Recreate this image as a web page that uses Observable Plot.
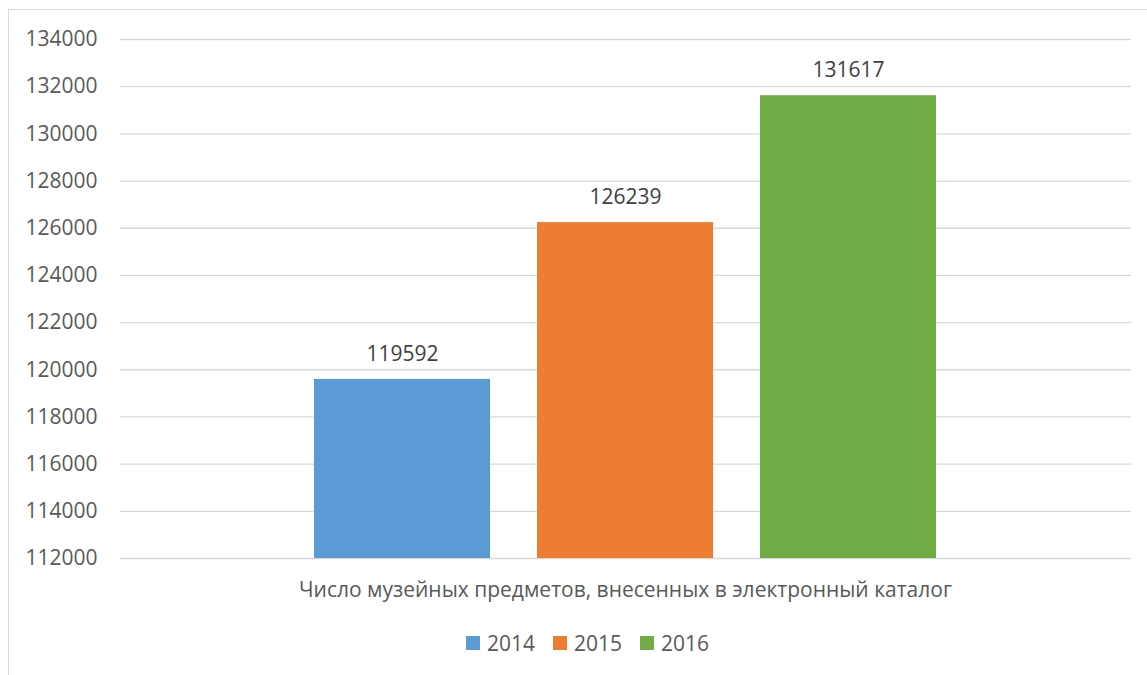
<!DOCTYPE html>
<html>
<head>
<meta charset="utf-8">
<script src="https://cdn.jsdelivr.net/npm/d3@7"></script>
<script src="https://cdn.jsdelivr.net/npm/@observablehq/plot@0.6"></script>
<style>
  html, body { margin: 0; padding: 0; background: #fff; }
  #wrap { position: relative; width: 1147px; height: 675px; overflow: hidden; font-family: "Open Sans", sans-serif; }
  #frame { position: absolute; left: 8px; top: 9px; width: 1200px; height: 700px; border: 1.5px solid #d9d9d9; box-sizing: border-box; }
  #chart { position: absolute; left: 0; top: 0; }
  #catlabel { position: absolute; left: 120px; width: 1011px; top: 575px; text-align: center; font-size: 21px; color: #595959; }
  #legend { position: absolute; left: 14px; width: 1147px; top: 629px; display: flex; justify-content: center; font-size: 21px; color: #595959; }
  .item { display: flex; align-items: center; margin: 0 9px; }
  .sw { width: 14px; height: 14px; margin-right: 7px; }
</style>
</head>
<body>
<div id="wrap">
  <div id="frame"></div>
  <div id="chart"></div>
  <div id="catlabel"></div>
  <div id="legend"></div>
</div>
<script>
const years = ["2014", "2015", "2016"];
const values = [119592, 126239, 131617];
const colors = ["#5b9bd5", "#ed7d31", "#70ad47"];
const categoryLabel = "Число музейных предметов, внесенных в электронный каталог";
const yMin = 112000;
const yMax = 134000;
const yTicks = d3.range(112000, 134001, 2000);

const data = years.map((y, i) => ({year: y, value: values[i]}));

const plot = Plot.plot({
  width: 1147,
  height: 675,
  marginLeft: 120,
  marginRight: 16,
  marginTop: 39,
  marginBottom: 117,
  style: {fontFamily: "Open Sans, sans-serif", background: "transparent"},
  x: {domain: years, paddingInner: 0.21, paddingOuter: 0.862, axis: null},
  y: {domain: [yMin, yMax], label: null},
  color: {domain: years, range: colors},
  marks: [
    Plot.gridY(yTicks, {stroke: "#d9d9d9", strokeOpacity: 1, strokeWidth: 1.3}),
    Plot.axisY(yTicks, {tickSize: 0, tickPadding: 23, label: null, tickFormat: d => String(d), fontSize: 21, fill: "#595959"}),
    Plot.barY(data, {x: "year", y1: yMin, y2: "value", fill: "year"}),
    Plot.text(data, {x: "year", y: "value", text: d => String(d.value), dy: -25, fontSize: 21, fill: "#404040"})
  ]
});
document.getElementById("chart").appendChild(plot);
document.getElementById("catlabel").textContent = categoryLabel;
const legend = document.getElementById("legend");
years.forEach((y, i) => {
  const it = document.createElement("div");
  it.className = "item";
  const sw = document.createElement("span");
  sw.className = "sw";
  sw.style.background = colors[i];
  const t = document.createElement("span");
  t.textContent = y;
  it.appendChild(sw); it.appendChild(t);
  legend.appendChild(it);
});
</script>
</body>
</html>
